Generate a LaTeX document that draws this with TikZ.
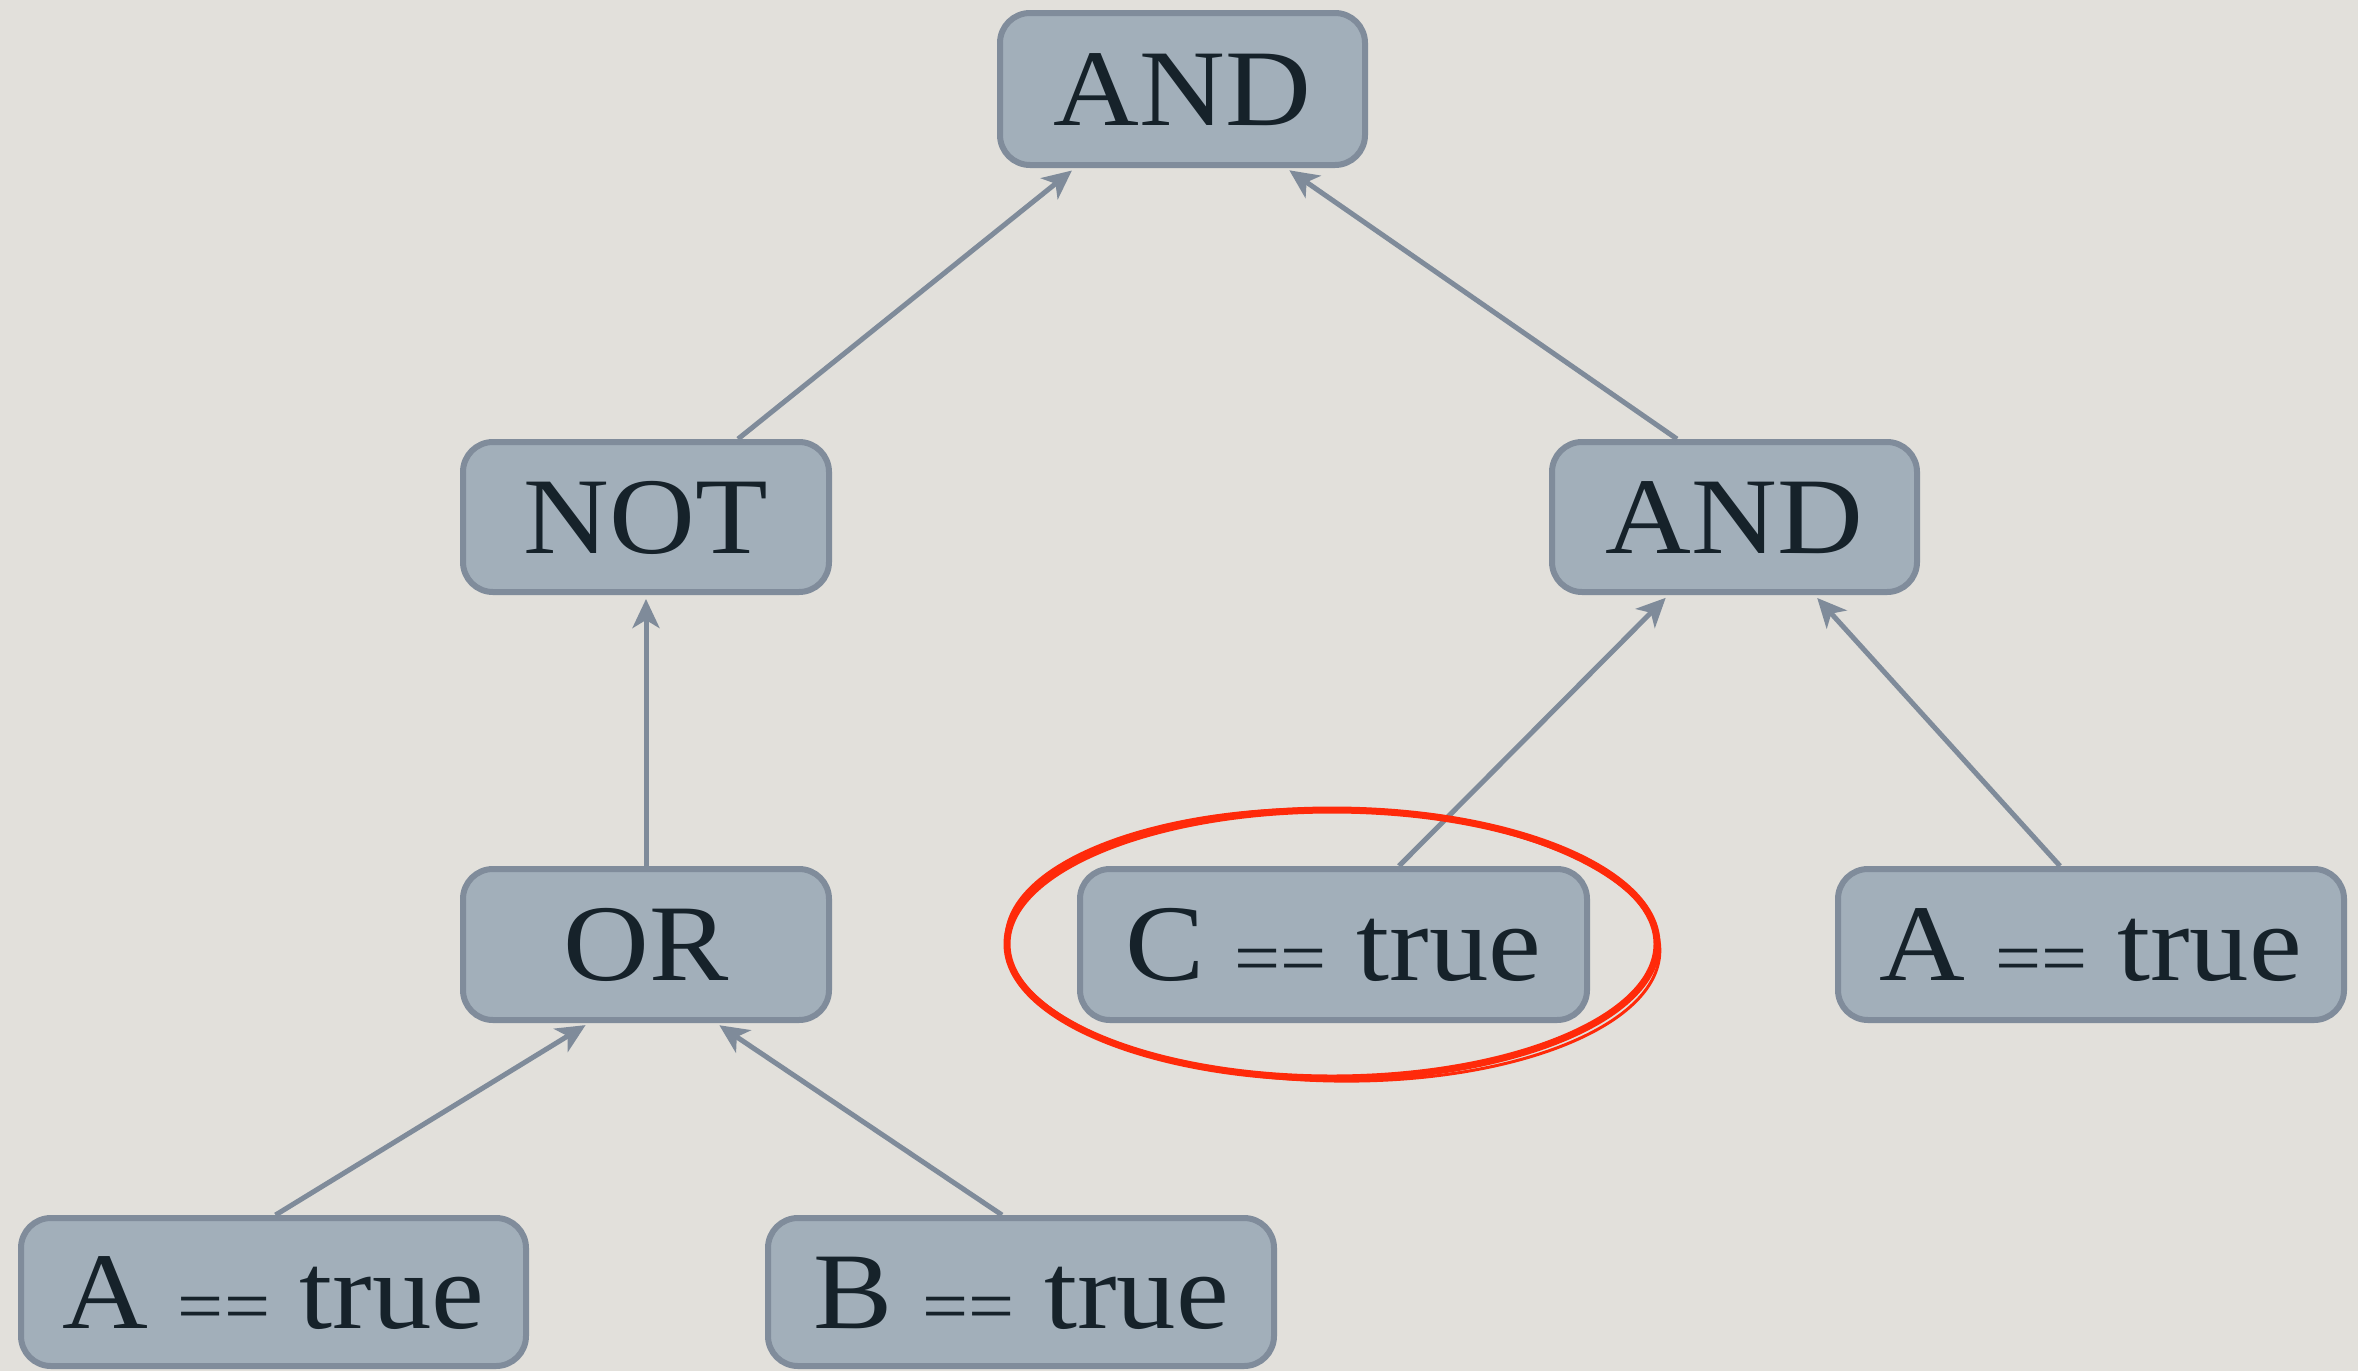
\documentclass[tikz,border=0pt]{standalone}
\usepackage{fontspec}
\setmainfont{Liberation Serif}
\newfontfamily\boxfont[FakeStretch=1.09]{Liberation Serif}
\usetikzlibrary{arrows.meta,calc}
\definecolor{bgcol}{HTML}{E2E0DB}
\definecolor{nodefill}{HTML}{A2AFBA}
\definecolor{nodeborder}{HTML}{808C9B}
\definecolor{textcol}{HTML}{16222A}
\definecolor{arrowcol}{HTML}{7F8B9A}
\definecolor{redink}{HTML}{FF2A0A}
\newcommand{\eqsign}{{\fontsize{75}{80}\selectfont\raisebox{-3pt}{==}}}
\begin{document}
\begin{tikzpicture}[x=1pt,y=-1pt,
  boxnode/.style={draw=nodeborder, fill=nodefill, line width=6pt, rounded corners=30pt,
    inner sep=0pt, text=textcol, font=\boxfont\fontsize{109}{120}\selectfont,
    text height=72pt, text depth=0pt, align=center},
  conn/.style={draw=arrowcol, line width=5pt, shorten >=4pt,
    -{Stealth[length=29pt,width=27pt,inset=8pt]}}]
\useasboundingbox (0,0) rectangle (2358,1371);
\fill[bgcol] (0,0) rectangle (2358,1371);

\node[boxnode, minimum width=365pt, minimum height=152pt] (and1) at (1182.5,89) {AND};
\node[boxnode, minimum width=366pt, minimum height=150pt] (not) at (646,517) {NOT};
\node[boxnode, minimum width=365pt, minimum height=150pt] (and2) at (1734.5,517) {AND};
\node[boxnode, minimum width=366pt, minimum height=151pt] (or) at (646,944.5) {OR};
\node[boxnode, minimum width=507pt, minimum height=151pt] (c) at (1333.5,944.5) {C \eqsign{} true};
\node[boxnode, minimum width=506pt, minimum height=151pt] (a2) at (2091,944.5) {A \eqsign{} true};
\node[boxnode, minimum width=505pt, minimum height=148pt] (a1) at (273.5,1292) {A \eqsign{} true};
\node[boxnode, minimum width=506pt, minimum height=148pt] (b) at (1021,1292) {B \eqsign{} true};

\draw[conn] ($(not.north)+(92,0)$) -- ($(and1.south)+(-107.5,0)$);
\draw[conn] ($(and2.north)+(-57.5,0)$) -- ($(and1.south)+(103.5,0)$);
\draw[conn] (or.north) -- (not.south);
\draw[conn] ($(c.north)+(65.5,0)$) -- ($(and2.south)+(-66,0)$);
\draw[conn] ($(a2.north)+(-31,0)$) -- ($(and2.south)+(80,0)$);
\draw[conn] ($(a1.north)+(2,0)$) -- ($(or.south)+(-57,0)$);
\draw[conn] ($(b.north)+(-19,0)$) -- ($(or.south)+(70,0)$);

\coordinate (ring) at (1332,944);
\draw[redink, line width=7pt] (ring) ellipse [x radius=325pt, y radius=134pt];
\draw[redink, line width=3pt, rotate around={-1.2:(ring)}] ($(ring)+(1,1)$) ellipse [x radius=327pt, y radius=136pt];
\end{tikzpicture}
\end{document}
